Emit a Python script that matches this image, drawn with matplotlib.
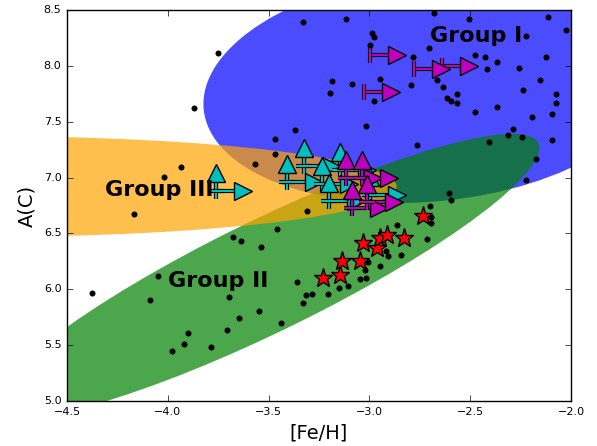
import numpy as np
import matplotlib.pyplot as plt
from matplotlib.patches import Ellipse

plt.style.use('classic')

# field stars (black dots)
dots_feh = [-3.751, -3.870, -3.329, -3.116, -2.987, -2.977, -2.997, -3.186, -3.086, -3.195,
            -2.947, -2.977, -3.017, -3.369, -3.468,
            -2.704, -2.784, -2.476, -2.427, -2.367, -2.417, -2.665, -2.794, -2.635, -2.565,
            -2.615, -2.565, -2.367,
            -2.595, -2.476, -2.238, -2.074, -2.074, -2.094, -2.193, -2.288, -2.312, -2.243,
            -2.407, -2.094, -2.174, -2.223, -2.605, -2.595,
            -2.680, -2.114, -2.506, -2.223, -2.124, -2.025, -2.258, -2.154,
            -2.764, -3.468, -3.567, -3.310, -3.458, -2.699, -2.694, -2.694, -2.863, -3.935,
            -4.019, -4.168, -3.677, -3.637,
            -2.714, -2.918, -2.908, -2.843, -2.947, -3.022, -3.007, -3.047, -3.017, -3.106,
            -3.151, -3.359, -3.205, -3.285, -3.314, -3.329, -3.538, -3.548, -3.438, -4.376,
            -4.049, -4.088, -3.696, -3.900, -3.920, -3.979, -3.786, -3.706, -3.647]
dots_ac = [8.115, 7.623, 8.393, 8.419, 8.294, 8.258, 8.187, 7.864, 7.838, 7.757,
           7.882, 7.685, 7.462, 7.426, 7.345,
           8.160, 8.079, 8.097, 8.079, 8.034, 7.972, 7.873, 7.829, 7.811, 7.748,
           7.712, 7.667, 7.632,
           7.685, 7.587, 7.784, 7.748, 7.667, 7.569, 7.542, 7.435, 7.381, 7.363,
           7.318, 7.336, 7.166, 6.978, 6.862, 6.799,
           8.473, 8.437, 8.419, 8.267, 8.079, 8.321, 7.981, 7.873,
           7.291, 7.211, 7.121, 6.701, 6.539, 6.745, 6.647, 6.593, 6.575, 7.094,
           7.005, 6.674, 6.468, 6.432,
           6.450, 6.342, 6.298, 6.307, 6.208, 6.172, 6.244, 6.092, 6.101, 6.029,
           6.011, 6.065, 5.957, 5.957, 5.948, 5.877, 6.378, 5.805, 5.698, 5.966,
           6.119, 5.904, 5.931, 5.608, 5.510, 5.447, 5.483, 5.635, 5.743]

# red stars
star_feh = [-3.230, -3.146, -3.136, -3.047, -3.032, -2.962, -2.947, -2.913, -2.828, -2.734]
star_ac = [6.101, 6.128, 6.253, 6.253, 6.414, 6.369, 6.459, 6.486, 6.459, 6.656]

# cyan: lower limits in both [Fe/H] and A(C)
cyan_feh = [-3.761, -3.409, -3.324, -3.235, -3.146, -3.200, -2.997]
cyan_ac = [6.880, 6.960, 7.103, 6.942, 7.068, 6.790, 6.844]

# magenta: lower limits in both
mag_feh = [-3.116, -3.037, -3.086, -3.012]
mag_ac = [6.996, 6.996, 6.727, 6.781]

# magenta: lower limits in [Fe/H] only
magr_feh = [-2.997, -2.779, -2.640, -3.027]
magr_ac = [8.097, 7.972, 7.999, 7.766]

# group regions: name, colour, centre, width, height, angle
groups = ['Group I', 'Group II', 'Group III']
group_colors = ['blue', 'green', 'orange']
group_xy = [(-2.69, 7.81), (-3.51, 6.12), (-4.89, 6.92)]
group_w = [2.35, 3.62, 4.05]
group_h = [1.98, 0.83, 0.90]
group_ang = [29.4, 43.0, 0.0]
label_xy = [(-2.699, 8.267), (-3.999, 6.074), (-4.312, 6.889)]

fig = plt.figure(figsize=(5.97, 4.46), facecolor='w')
ax = fig.add_axes([0.1122, 0.1009, 0.8442, 0.8767])

for xy, w, h, a, col in zip(group_xy, group_w, group_h, group_ang, group_colors):
    ax.add_patch(Ellipse(xy, w, h, angle=a, fc=col, ec='none', alpha=0.7, zorder=1))

ax.plot(star_feh, star_ac, ls='none', marker='*', ms=14, mfc='r', mec='k', mew=1, zorder=3)

dx, dy = 0.135, 0.16


def limits(fe, c, col, up=True):
    fe = np.array(fe)
    c = np.array(c)
    ax.hlines(c, fe, fe + dx, colors='k', lw=3.0, zorder=4)
    ax.hlines(c, fe, fe + dx, colors=col, lw=1.5, zorder=4)
    ax.plot(fe, c, ls='none', marker='|', ms=12, mew=3.0, color='k', zorder=4)
    ax.plot(fe, c, ls='none', marker='|', ms=11, mew=1.5, color=col, zorder=4)
    ax.plot(fe + dx, c, ls='none', marker='>', ms=12.5, mfc=col, mec='k', mew=1, zorder=4)
    if up:
        ax.vlines(fe, c, c + dy, colors='k', lw=3.0, zorder=4)
        ax.vlines(fe, c, c + dy, colors=col, lw=1.5, zorder=4)
        ax.plot(fe, c, ls='none', marker='_', ms=12, mew=3.0, color='k', zorder=4)
        ax.plot(fe, c, ls='none', marker='_', ms=11, mew=1.5, color=col, zorder=4)
        ax.plot(fe, c + dy, ls='none', marker='^', ms=12.5, mfc=col, mec='k', mew=1, zorder=4)


limits(cyan_feh, cyan_ac, 'c')
limits(mag_feh, mag_ac, 'm')
limits(magr_feh, magr_ac, 'm', up=False)

ax.plot(dots_feh, dots_ac, ls='none', marker='o', ms=3.8, mfc='k', mec='k', zorder=5)

for name, (lx, ly) in zip(groups, label_xy):
    ax.text(lx, ly, name, fontsize=16, fontweight='bold', va='center', zorder=6)

ax.set_xlim(-4.5, -2.0)
ax.set_ylim(5.0, 8.5)
ax.set_xticks(np.arange(-4.5, -1.99, 0.5))
ax.set_yticks(np.arange(5.0, 8.51, 0.5))
ax.tick_params(labelsize=8)
ax.set_xlabel('[Fe/H]', fontsize=14)
ax.set_ylabel('A(C)', fontsize=14)

fig.savefig('out.png', dpi=100, facecolor='w')
